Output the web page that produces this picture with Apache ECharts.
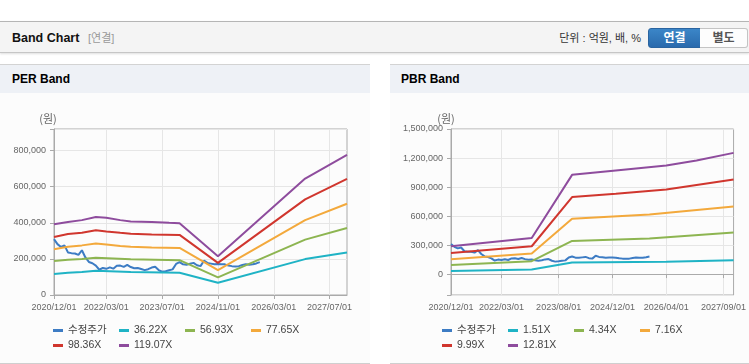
<!DOCTYPE html>
<html><head><meta charset="utf-8">
<script src="https://cdn.jsdelivr.net/npm/echarts@6/dist/echarts.min.js"></script>
<style>
html,body{margin:0;padding:0;}
body{width:749px;height:364px;overflow:hidden;background:#fff;position:relative;font-family:'Liberation Sans','Noto Sans CJK KR',sans-serif;}
.abs{position:absolute;}
#topbar{left:0;top:21px;width:749px;height:30px;background:#f4f4f4;border-top:1px solid #b5b5b5;border-bottom:1px solid #c6c6c6;box-shadow:0 1px 2px rgba(0,0,0,0.13);}
#title{left:12px;top:29px;font-size:12.5px;font-weight:bold;color:#111;line-height:18px;}
#sub{left:88px;top:30px;font-size:11px;color:#999;line-height:16px;}
#unit{right:108px;top:30px;font-size:11px;color:#333;line-height:16px;white-space:nowrap;}
#b1{left:648px;top:28px;width:51px;height:18px;border:1px solid #2a64a0;border-radius:3px 0 0 3px;background:linear-gradient(#3b86c8,#2a6aad);color:#fff;font-size:12px;font-weight:bold;text-align:center;line-height:18px;}
#b2{left:700px;top:28px;width:47px;height:18px;border:1px solid #c4c4c4;border-left:none;border-radius:0 3px 3px 0;background:#fdfdfd;color:#555;font-size:12px;font-weight:bold;text-align:center;line-height:18px;}
.panel{top:64px;height:298px;border-top:1px solid #d3d3d3;border-bottom:1px solid #cfcfcf;background:#fcfcfc;}
.phead{left:0;top:0;right:0;height:28px;background:#eef1f6;}
.ptitle{left:12px;top:6px;font-size:12px;font-weight:bold;color:#000;line-height:16px;}
.chart{top:29px;left:0;height:269px;}
</style>
</head><body>
<div id="topbar" class="abs"></div>
<div id="title" class="abs">Band Chart</div>
<div id="sub" class="abs">[연결]</div>
<div id="unit" class="abs">단위 : 억원, 배, %</div>
<div id="b1" class="abs">연결</div>
<div id="b2" class="abs">별도</div>

<div class="abs panel" style="left:0;width:370px;">
  <div class="abs phead"><div class="abs ptitle">PER Band</div></div>
  <div id="per" class="abs chart" style="width:370px;"></div>
</div>
<div class="abs panel" style="left:390px;width:359px;">
  <div class="abs phead"><div class="abs ptitle" style="left:11px;">PBR Band</div></div>
  <div id="pbr" class="abs chart" style="width:359px;"></div>
</div>

<script>
// ---------- data ----------
const perTicks = ['2020/12/01','2022/03/01','2023/07/01','2024/11/01','2026/03/01','2027/07/01'];
const pbrTicks = ['2020/12/01','2022/03/01','2023/08/01','2024/12/01','2026/04/01','2027/09/01'];

// adjusted price, monthly from 2020/12
const adjPrice = [310000,282000,266000,275000,236000,232000,230000,222000,248000,208000,
  183000,176000,163000,140000,150000,145000,153000,146000,162000,163000,
  156000,167000,155000,148000,150000,144000,138000,143000,152000,156000,
  138000,129000,132000,137000,142000,172000,182000,170000,168000,173000,
  178000,165000,160000,190000,178000,174000,170000,172000,171000,170000,
  163000,160000,158000,160000,166000,171000,168000,170000,175000,182000];

const perNames = ['36.22X','56.93X','77.65X','98.36X','119.07X'];
const per1 = [['2020/12/01',116000],['2021/04/01',123000],['2021/08/01',127000],['2021/12/01',134000],['2022/10/01',128000],['2023/12/01',123000],['2024/11/01',68000],['2026/12/01',199000],['2027/12/01',236000]];
const per2 = [['2020/12/01',188000],['2021/04/01',195000],['2021/08/01',200000],['2021/12/01',206000],['2022/10/01',198000],['2023/12/01',193000],['2024/11/01',98000],['2026/12/01',307000],['2027/12/01',371000]];
const per3 = [['2020/12/01',254000],['2021/04/01',268000],['2021/08/01',275000],['2021/12/01',285000],['2022/03/01',280000],['2022/07/01',272000],['2022/10/01',268000],['2023/04/01',263000],['2023/12/01',261000],['2024/11/01',138000],['2026/12/01',415000],['2027/12/01',506000]];
const per4 = [['2020/12/01',322000],['2021/04/01',338000],['2021/08/01',345000],['2021/12/01',359000],['2022/03/01',352000],['2022/07/01',345000],['2022/10/01',340000],['2023/04/01',335000],['2023/12/01',333000],['2024/11/01',178000],['2026/12/01',530000],['2027/12/01',644000]];
const per5 = [['2020/12/01',392000],['2021/04/01',405000],['2021/08/01',415000],['2021/12/01',432000],['2022/03/01',428000],['2022/07/01',415000],['2022/10/01',408000],['2023/04/01',404000],['2023/09/01',400000],['2023/12/01',398000],['2024/11/01',215000],['2026/12/01',645000],['2027/12/01',776000]];

const pbrNames = ['1.51X','4.34X','7.16X','9.99X','12.81X'];
const pbr1 = [['2020/12/01',31000],['2022/12/01',48000],['2023/12/01',120000],['2026/04/01',127000],['2027/12/01',144000]];
const pbr2 = [['2020/12/01',93000],['2022/12/01',134000],['2023/12/01',343000],['2025/11/01',367000],['2027/12/01',429000]];
const pbr3 = [['2020/12/01',154000],['2022/12/01',213000],['2023/12/01',573000],['2025/11/01',615000],['2027/12/01',700000]];
const pbr4 = [['2020/12/01',219000],['2022/12/01',288000],['2023/12/01',796000],['2025/01/01',831000],['2026/04/01',875000],['2027/12/01',978000]];
const pbr5 = [['2020/12/01',288000],['2022/12/01',374000],['2023/12/01',1026000],['2025/01/01',1071000],['2026/04/01',1122000],['2027/01/01',1174000],['2027/12/01',1253000]];

const colors = ['#3d7cc4','#1fb3c5','#8db551','#f3a93c','#d0362e','#8e4c9d'];

// month categories 2020/12 .. 2027/12
const months = [];
for (let i = 0; i <= 84; i++) {
  const t = 2020 * 12 + 11 + i;
  const y = Math.floor(t / 12), m = t % 12 + 1;
  months.push(y + '/' + (m < 10 ? '0' + m : m) + '/01');
}

function fmt(v){ return String(v).replace(/\B(?=(\d{3})+(?!\d))/g, ','); }

function build(id, cfg) {
  const chart = echarts.init(document.getElementById(id), null, {renderer:'canvas'});
  const tickFn = (i, v) => cfg.ticks.indexOf(v) >= 0;
  const names = ['수정주가'].concat(cfg.names);
  const series = [{name:'수정주가', data: adjPrice}].concat(cfg.bands.map((b, k) => ({name: cfg.names[k], data: b})));
  chart.setOption({
    animation:false,
    color: colors,
    grid: {left: cfg.left, right: cfg.right, top: 35, bottom: 68, show: true, borderColor: '#aaaaaa', borderWidth: 1},
    legend: {
      data: names, left: cfg.legLeft, top: 230, width: 265, itemGap: 2, itemWidth: 10, itemHeight: 3, itemTextGap: 4,
      icon: 'rect', padding: 0,
      textStyle: {fontSize: 10.5, color: '#444', width: 49, lineHeight: 13, fontFamily: "'Liberation Sans','Noto Sans CJK KR',sans-serif"}
    },
    xAxis: {
      type: 'category', data: months, boundaryGap: false,
      axisLine: {lineStyle: {color: '#aaaaaa'}},
      axisTick: {interval: tickFn, length: 4, lineStyle: {color: '#aaaaaa'}},
      axisLabel: {interval: tickFn, fontSize: 9, color: '#666', margin: 8, fontFamily: "'Liberation Sans',sans-serif"},
      splitLine: {show: true, interval: tickFn, lineStyle: {color: '#e6e6e6'}}
    },
    yAxis: {
      type: 'value', min: cfg.min, max: cfg.max, splitNumber: 5,
      name: '(원)', nameGap: 5,
      nameTextStyle: {color: '#666', fontSize: 11, padding: [0, cfg.namePad, 0, 0], fontFamily: "'Noto Sans CJK KR',sans-serif"},
      axisLine: {show: true, lineStyle: {color: '#aaaaaa'}},
      axisTick: {show: true, length: 4, lineStyle: {color: '#aaaaaa'}},
      axisLabel: {fontSize: 9, color: '#666', margin: 8, fontFamily: "'Liberation Sans',sans-serif",
        formatter: v => (v % cfg.step === 0 && v >= 0) ? fmt(v) : ''},
      splitLine: {lineStyle: {color: '#e6e6e6'}}
    },
    series: series.map(s => ({type: 'line', name: s.name, data: s.data, showSymbol: false, symbol: 'none', lineStyle: {width: 2}}))
  });
}

build('per', {ticks: perTicks, names: perNames, bands: [per1, per2, per3, per4, per5],
  left: 54, right: 23, min: 0, max: 920000, step: 200000, legLeft: 53, namePad: 12});
build('pbr', {ticks: pbrTicks, names: pbrNames, bands: [pbr1, pbr2, pbr3, pbr4, pbr5],
  left: 61, right: 12, min: -216000, max: 1500000, step: 300000, legLeft: 52, namePad: 10});
</script>
</body></html>
